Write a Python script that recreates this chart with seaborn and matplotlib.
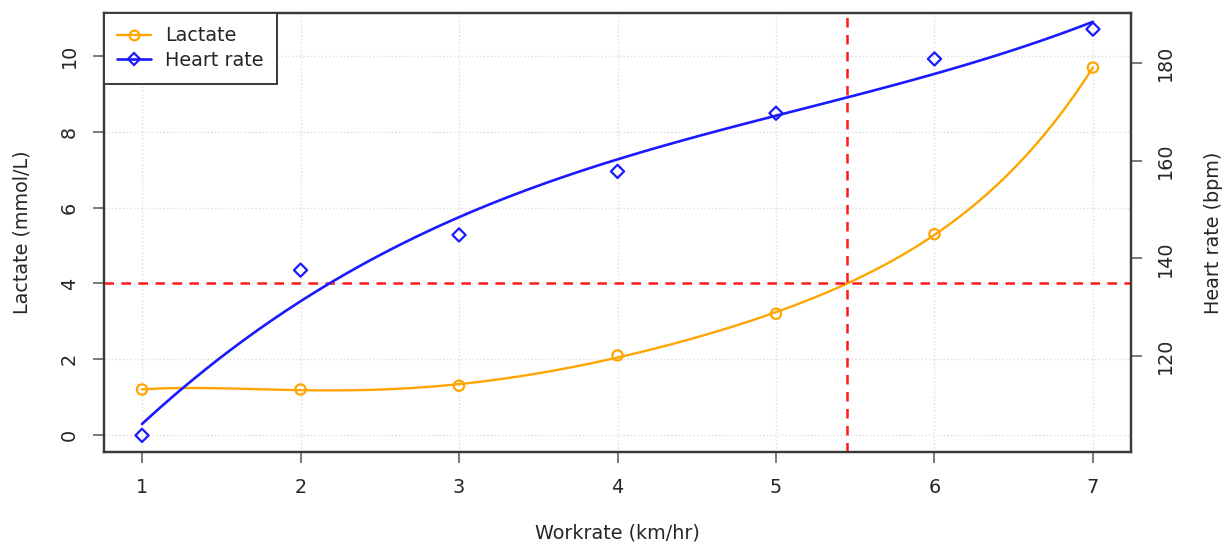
import numpy as np
import pandas as pd
import matplotlib
matplotlib.use("Agg")
import matplotlib.pyplot as plt
from matplotlib.lines import Line2D
import seaborn as sns

# Incremental exercise test
workrate = [1, 2, 3, 4, 5, 6, 7]                               # km/hr
lactate = [1.2, 1.2, 1.3, 2.1, 3.2, 5.3, 9.7]                  # mmol/L
heart_rate = [103.8, 137.6, 144.8, 157.8, 169.7, 180.8, 186.9]  # bpm
lactate_threshold = 4.0                                         # mmol/L
LACTATE_ORDER = 5
HR_ORDER = 3

df = pd.DataFrame({"workrate": workrate, "lactate": lactate, "heart_rate": heart_rate})

# workrate at which the lactate fit reaches the threshold
coef = np.polyfit(df["workrate"], df["lactate"], LACTATE_ORDER)
coef[-1] -= lactate_threshold
roots = np.roots(coef)
roots = roots[np.abs(roots.imag) < 1e-9].real
threshold_workrate = roots[(roots >= min(workrate)) & (roots <= max(workrate))].max()

sns.set_style("white")
plt.rcParams["font.family"] = ["DejaVu Sans"]

FS = 13.8
TEXT = "#262626"
ORANGE = "#FFA500"
BLUE = "#1a1aff"
RED = "#FF1a1a"

fig = plt.figure(figsize=(12.25, 5.45), dpi=100)
ax = fig.add_axes([104 / 1225, 1 - 452 / 545, 1027 / 1225, 439 / 545])
ax2 = ax.twinx()

# grid
for xv in workrate:
    ax.axvline(xv, color="#dcdcdc", lw=1.0, ls=":", zorder=0)
for yv in range(0, 11, 2):
    ax.axhline(yv, color="#dcdcdc", lw=1.0, ls=":", zorder=0)

# lactate: polynomial fit + observed points
sns.regplot(data=df, x="workrate", y="lactate", order=LACTATE_ORDER, ci=None, scatter=False,
            color=ORANGE, line_kws={"lw": 1.7}, ax=ax)
sns.scatterplot(data=df, x="workrate", y="lactate", marker="o", s=55,
                facecolor="none", edgecolor=ORANGE, linewidth=1.6, ax=ax, zorder=3)

# heart rate: polynomial fit + observed points
sns.regplot(data=df, x="workrate", y="heart_rate", order=HR_ORDER, ci=None, scatter=False,
            color=BLUE, line_kws={"lw": 1.9}, ax=ax2)
sns.scatterplot(data=df, x="workrate", y="heart_rate", marker="D", s=45,
                facecolor="none", edgecolor=BLUE, linewidth=1.6, ax=ax2, zorder=3)

# lactate threshold markers
dash = (0, (3.8, 3.0))
ax.axhline(lactate_threshold, color=RED, lw=1.8, ls=dash, zorder=4)
ax.axvline(threshold_workrate, color=RED, lw=1.8, ls=dash, zorder=4)

ax.set_xlim(0.76, 7.24)
ax.set_ylim(-0.45, 11.14)
ax2.set_ylim(100.4, 190.2)

ax.set_xticks(workrate)
ax.set_yticks(range(0, 11, 2))
ax2.set_yticks([120, 140, 160, 180])

for a in (ax, ax2):
    a.tick_params(axis="both", direction="out", length=8, width=1.1, color="#555555",
                  labelsize=FS, labelcolor=TEXT, pad=10)
    for s in a.spines.values():
        s.set_color("#3a3a3a")
        s.set_linewidth(1.6)
ax.tick_params(axis="x", pad=11, bottom=True)
ax.tick_params(axis="y", labelrotation=90, left=True)
ax2.tick_params(axis="y", labelrotation=90, right=True)
for lab in ax.get_yticklabels() + ax2.get_yticklabels():
    lab.set_va("center")

ax.set_xlabel("Workrate (km/hr)", fontsize=FS, color=TEXT)
ax.set_ylabel("Lactate (mmol/L)", fontsize=FS, color=TEXT)
ax2.set_ylabel("Heart rate (bpm)", fontsize=FS, color=TEXT, rotation=90)
ax.xaxis.set_label_coords(0.5, -0.185)
ax.xaxis.label.set_va("center")
ax.yaxis.set_label_coords(-0.080, 0.5)
ax.yaxis.label.set_va("center")
ax2.yaxis.set_label_coords(1.080, 0.5)
ax2.yaxis.label.set_va("center")

handles = [
    Line2D([], [], color=ORANGE, lw=1.7, marker="o", markersize=7,
           markerfacecolor="none", markeredgewidth=1.6),
    Line2D([], [], color=BLUE, lw=1.9, marker="D", markersize=6.5,
           markerfacecolor="none", markeredgewidth=1.6),
]
leg = ax2.legend(handles, ["Lactate", "Heart rate"], loc="upper left",
                 borderaxespad=0, fancybox=False, framealpha=1, edgecolor="#3a3a3a",
                 fontsize=FS, handlelength=1.75, handletextpad=0.75,
                 labelspacing=0.3, borderpad=0.7)
leg.get_frame().set_linewidth(1.4)
for t in leg.get_texts():
    t.set_color(TEXT)

fig.savefig("out.png", dpi=100)
